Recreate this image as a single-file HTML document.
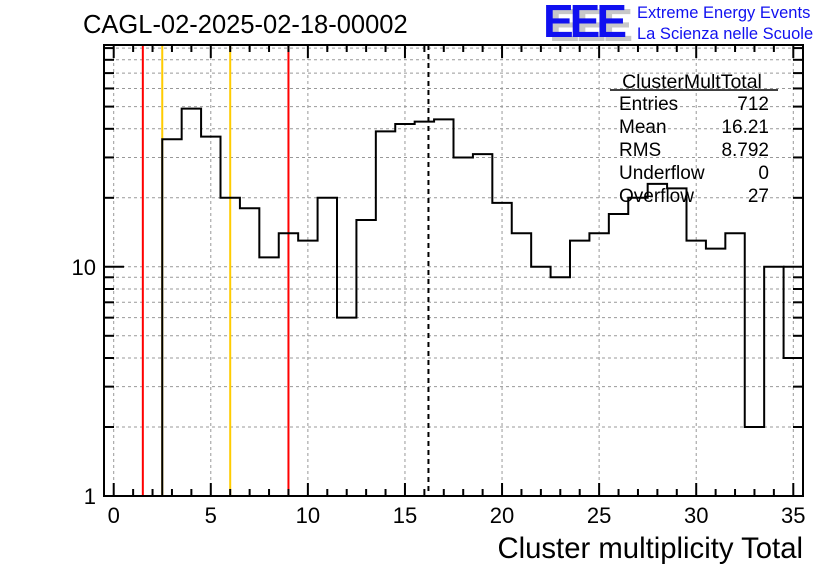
<!DOCTYPE html>
<html><head><meta charset="utf-8"><style>
body{margin:0;background:#fff}
svg{display:block;font-family:"Liberation Sans",Arial,sans-serif}
</style></head><body>
<svg id="c" width="836" height="572">
<rect width="836" height="572" fill="#fff"/>
<g id="grid"></g>
<g id="marks"></g>
<g id="axes"></g>
<text x="83" y="33" font-size="25.5">CAGL-02-2025-02-18-00002</text>
<g>
<text x="549" y="41" font-size="46" font-weight="bold" fill="#c8c8c8" letter-spacing="-4">EEE</text>
<text x="543" y="37" font-size="46" font-weight="bold" fill="#1010f0" letter-spacing="-4">EEE</text>
<text x="637" y="18" font-size="16.5" fill="#1010f0">Extreme Energy Events</text>
<text x="637" y="39" font-size="16.5" fill="#1010f0">La Scienza nelle Scuole</text>
</g>
<g font-size="19">
<text x="692" y="88" text-anchor="middle" font-size="19.5">ClusterMultTotal</text>
<line x1="610" y1="90" x2="778" y2="90" stroke="#000" stroke-width="1.5"/>
<text x="619" y="110">Entries</text><text x="769" y="110" text-anchor="end">712</text>
<text x="619" y="133">Mean</text><text x="769" y="133" text-anchor="end">16.21</text>
<text x="619" y="156">RMS</text><text x="769" y="156" text-anchor="end">8.792</text>
<text x="619" y="179">Underflow</text><text x="769" y="179" text-anchor="end">0</text>
<text x="619" y="202">Overflow</text><text x="769" y="202" text-anchor="end">27</text>
</g>
<text x="803" y="558" font-size="29.3" text-anchor="end">Cluster multiplicity Total</text>
</svg>
<script>
const binCenters=[0,1,2,3,4,5,6,7,8,9,10,11,12,13,14,15,16,17,18,19,20,21,22,23,24,25,26,27,28,29,30,31,32,33,34,35];
const counts=[0,0,0,36,49,37,20,18,11,14,13,20,6,16,39,42,43,44,30,31,19,14,10,9,13,14,17,20,23,22,13,12,14,2,10,4];
const xTicks=[0,5,10,15,20,25,30,35];
const yTickLabels=[1,10];
const redLines=[1.5,9];
const orangeLines=[2.5,6];
const meanLine=[16.21];
const L=104,R=803,T=45,B=496,XMIN=-0.5,XMAX=35.5,DEC=229.2;
const sx=v=>L+(v-XMIN)/(XMAX-XMIN)*(R-L);
const sy=v=>B-Math.log10(Math.max(v,1))*DEC;
const NS='http://www.w3.org/2000/svg';
function mk(p,t,a){const e=document.createElementNS(NS,t);for(const k in a)e.setAttribute(k,a[k]);p.appendChild(e);return e;}
const grid=document.getElementById('grid'),marks=document.getElementById('marks'),axes=document.getElementById('axes');
xTicks.forEach(v=>{const e=mk(grid,'line',{x1:sx(v),x2:sx(v),y1:T,y2:B,stroke:'#999','stroke-dasharray':'3,3','stroke-width':1});

});
for(let d=1;d<=10;d*=10)for(let m=1;m<10;m++){const v=d*m;if(v<=1)continue;const y=sy(v);if(y<T)continue;
const e=mk(grid,'line',{x1:L,x2:R,y1:y,y2:y,stroke:'#999','stroke-dasharray':'3,3','stroke-width':1});

}
redLines.forEach(v=>{const e=mk(marks,'line',{x1:sx(v),x2:sx(v),y1:T,y2:B,stroke:'#f00','stroke-width':2});

});
orangeLines.forEach(v=>{const e=mk(marks,'line',{x1:sx(v),x2:sx(v),y1:T,y2:B,stroke:'#fc0','stroke-width':2});

});
meanLine.forEach(v=>{const e=mk(marks,'line',{x1:sx(v),x2:sx(v),y1:T,y2:B,stroke:'#000','stroke-width':2,'stroke-dasharray':'5,4'});

});
let d='',started=false;
binCenters.forEach((c,i)=>{const x0=sx(c-0.5),x1=sx(c+0.5);const y=counts[i]>0?sy(counts[i]):B;
if(!started){if(counts[i]>0){d+=`M${x0},${B}L${x0},${y}L${x1},${y}`;started=true;}}
else{d+=`L${x0},${y}L${x1},${y}`;}});
const h=mk(marks,'path',{d:d,fill:'none',stroke:'#000','stroke-width':2});


const fr=mk(axes,'rect',{x:L,y:T,width:R-L,height:B-T,fill:'none',stroke:'#000','stroke-width':2});


for(let v=0;v<=35;v++){const big=v%5===0;const len=big?13:7;const x=sx(v);
mk(axes,'line',{x1:x,x2:x,y1:B,y2:B-len,stroke:'#000','stroke-width':2});
mk(axes,'line',{x1:x,x2:x,y1:T,y2:T+len,stroke:'#000','stroke-width':2});}
xTicks.forEach(v=>{const t=mk(axes,'text',{x:sx(v),y:523,'font-size':22,'text-anchor':'middle'});t.textContent=v;

});
for(let dd=1;dd<=10;dd*=10)for(let m=1;m<10;m++){const v=dd*m;const y=sy(v);if(y<T)continue;const len=(m===1)?20:10;
mk(axes,'line',{x1:L,x2:L+len,y1:y,y2:y,stroke:'#000','stroke-width':2});
mk(axes,'line',{x1:R,x2:R-len,y1:y,y2:y,stroke:'#000','stroke-width':2});}
yTickLabels.forEach(v=>{const t=mk(axes,'text',{x:96,y:sy(v)+8,'font-size':22,'text-anchor':'end'});t.textContent=v;

});
</script>
</body></html>
